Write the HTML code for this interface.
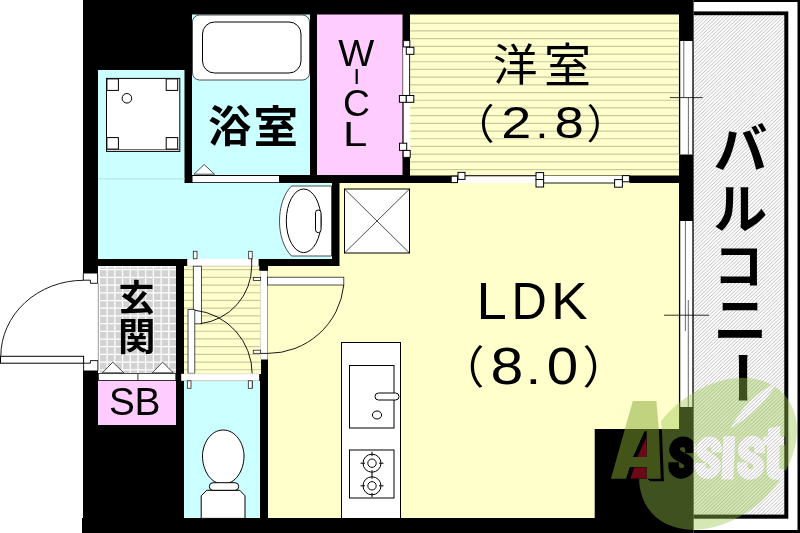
<!DOCTYPE html>
<html lang="ja"><head><meta charset="utf-8"><title>間取り図 1LDK</title>
<style>html,body{margin:0;padding:0;background:#fff;}body{width:800px;height:533px;overflow:hidden;font-family:"Liberation Sans",sans-serif;}svg{display:block;will-change:transform;}text{font-family:"Liberation Sans",sans-serif;fill:#000;}text.cjk{font-family:"Liberation Sans","Noto Sans CJK JP",sans-serif;}</style>
</head><body>
<svg width="800" height="533" viewBox="0 0 800 533">
<defs>
</defs>
<rect width="800" height="533" fill="#fff"/>
<path d="M83 0H693.5V533H82V518H83Z" fill="#000"/>
<rect x="82" y="274" width="16" height="96.5" fill="#fff"/>
<rect x="98" y="70" width="86.5" height="189" fill="#ccffff"/>
<rect x="184" y="183" width="148" height="76" fill="#ccffff"/>
<path d="M98 178.8H184.6" stroke="#b4dcdc" stroke-width="0.9"/>
<rect x="192" y="14.5" width="118" height="160.5" fill="#ccffff"/>
<rect x="317" y="14.5" width="85.5" height="160.5" fill="#ffccff"/>
<rect x="410" y="14.5" width="269" height="161" fill="#ffffcc"/>
<path d="M410 23.26H679M410 30.96H679M410 38.66H679M410 46.36H679M410 54.06H679M410 61.76H679M410 69.46H679M410 77.16H679M410 84.86H679M410 92.56H679M410 100.26H679M410 107.96H679M410 115.66H679M410 123.36H679M410 131.06H679M410 138.76H679M410 146.46H679M410 154.16H679M410 161.86H679M410 169.56H679" stroke="#c9c9a2" stroke-width="1.2" fill="none"/>
<path d="M339.5 183H679V429H594.7V518H268V266H339.5Z" fill="#ffffcc"/>
<rect x="184" y="266" width="77" height="108" fill="#ffffcc"/>
<path d="M184 269.66H261M184 277.36H261M184 285.06H261M184 292.76H261M184 300.46H261M184 308.16H261M184 315.86H261M184 323.56H261M184 331.26H261M184 338.96H261M184 346.66H261M184 354.36H261M184 362.06H261M184 369.76H261" stroke="#c9c9a2" stroke-width="1.2" fill="none"/>
<rect x="184" y="381" width="76" height="137" fill="#ccffff"/>
<rect x="98" y="266" width="78" height="108" fill="#d2d2d2"/>
<path d="M99.40 266V374M107.11 266V374M114.82 266V374M122.53 266V374M130.24 266V374M137.95 266V374M145.66 266V374M153.37 266V374M161.08 266V374M168.79 266V374M98 269.70H176M98 277.40H176M98 285.10H176M98 292.80H176M98 300.50H176M98 308.20H176M98 315.90H176M98 323.60H176M98 331.30H176M98 339.00H176M98 346.70H176M98 354.40H176M98 362.10H176M98 369.80H176M98.6 266V374M98 266.9H176" stroke="#fff" stroke-width="1.25" fill="none"/>
<rect x="98" y="381" width="78" height="44" fill="#ffccff"/>
<rect x="192.5" y="15" width="117" height="65" rx="7" fill="#fff" stroke="#222" stroke-width="0.8"/>
<rect x="202.5" y="22" width="98.5" height="51" rx="12" fill="#fff" stroke="#000" stroke-width="1"/>
<rect x="106.5" y="78.4" width="73.3" height="73" fill="#fff" stroke="#000" stroke-width="1"/>
<path d="M106.5 149.6H179.8" stroke="#333" stroke-width="0.8"/>
<rect x="106.9" y="78.9" width="11.5" height="11.5" fill="#fff" stroke="#000" stroke-width="1"/>
<rect x="166.2" y="78.9" width="11.5" height="11.5" fill="#fff" stroke="#000" stroke-width="1"/>
<rect x="106.9" y="137.6" width="11.5" height="11.5" fill="#fff" stroke="#000" stroke-width="1"/>
<rect x="166.2" y="137.6" width="11.5" height="11.5" fill="#fff" stroke="#000" stroke-width="1"/>
<circle cx="126.9" cy="98.3" r="4.8" fill="#fff" stroke="#000" stroke-width="1"/>
<rect x="192.5" y="176" width="86.5" height="6.2" fill="#fff"/>
<path d="M194 174.2L204.2 164.5L214.5 174.2Z" fill="#fff" stroke="#222" stroke-width="0.8"/>
<path d="M291.5 186H331.5V256H291.5C275.5 240 275.5 202 291.5 186Z" fill="#fff" stroke="#222" stroke-width="0.8"/>
<ellipse cx="303.7" cy="220.8" rx="17.4" ry="31.8" fill="#fff" stroke="#000" stroke-width="1"/>
<rect x="315.5" y="210" width="5.5" height="22.6" rx="2.7" fill="#fff" stroke="#000" stroke-width="1"/>
<rect x="344.5" y="189" width="65" height="64" fill="#fff" stroke="#000" stroke-width="1"/>
<path d="M344.5 189L409.5 253M409.5 189L344.5 253" stroke="#000" stroke-width="0.7"/>
<rect x="341.5" y="342.5" width="59" height="176" fill="#fff" stroke="#000" stroke-width="1"/>
<rect x="349.5" y="365.5" width="44.5" height="62.5" fill="#fff" stroke="#000" stroke-width="1"/>
<rect x="375" y="393" width="24" height="7" rx="3.5" fill="#fff" stroke="#000" stroke-width="1"/>
<ellipse cx="377" cy="415" rx="4.6" ry="4" fill="#fff" stroke="#000" stroke-width="1"/>
<rect x="349.5" y="450" width="44.5" height="48" fill="#fff" stroke="#000" stroke-width="1"/>
<circle cx="372" cy="463.2" r="9" fill="#fff" stroke="#000" stroke-width="1"/>
<circle cx="372" cy="463.2" r="4.2" fill="#fff" stroke="#000" stroke-width="1"/>
<path d="M372 451.7V456.2M372 470.2V474.7M360.5 463.2H365M379 463.2H383.5" stroke="#000" stroke-width="1"/>
<circle cx="372" cy="485.8" r="9" fill="#fff" stroke="#000" stroke-width="1"/>
<circle cx="372" cy="485.8" r="4.2" fill="#fff" stroke="#000" stroke-width="1"/>
<path d="M372 474.3V478.8M372 492.8V497.3M360.5 485.8H365M379 485.8H383.5" stroke="#000" stroke-width="1"/>
<path d="M201.2 518.4V495.8L206.8 490.3H239.8L245 495.8V518.4Z" fill="#fff" stroke="#000" stroke-width="1"/>
<path d="M223.2 430C236 430 244 444 244 456C244 470 236 484 223.2 484C210.5 484 202.5 470 202.5 456C202.5 444 210.5 430 223.2 430Z" fill="#fff" stroke="#000" stroke-width="1"/>
<rect x="209.3" y="482.7" width="29.4" height="7.6" rx="3.8" fill="#fff" stroke="#000" stroke-width="1"/>
<rect x="187.2" y="258.8" width="71.4" height="7.4" fill="#fff"/>
<path d="M187.2 266.2H258.6" stroke="#c4c4b4" stroke-width="0.8"/>
<rect x="193.3" y="251.3" width="3.7" height="7.5" fill="#fff" stroke="#222" stroke-width="0.8"/>
<rect x="248.7" y="251.3" width="3.5" height="7.5" fill="#fff" stroke="#222" stroke-width="0.8"/>
<rect x="259.3" y="265.5" width="8.4" height="5.3" fill="#000"/>
<rect x="260.6" y="270.8" width="7" height="88.7" fill="#fff"/>
<path d="M260.6 270.8V359.5" stroke="#d0d0c0" stroke-width="0.8"/>
<rect x="193.3" y="266.2" width="8.1" height="57.6" fill="#fff" stroke="#222" stroke-width="0.8"/>
<path d="M200.6 323.6A58 58 0 0 0 251.7 266.2V258.8" fill="none" stroke="#000" stroke-width="0.9"/>
<path d="M194.6 310.2A64.2 64.2 0 0 1 252.2 373.8V388.3" fill="none" stroke="#000" stroke-width="0.9"/>
<rect x="188" y="309.6" width="6.8" height="63.7" fill="#fff" stroke="#222" stroke-width="0.8"/>
<rect x="181.2" y="373.8" width="78" height="7" fill="#fff"/>
<path d="M184.2 373.8H259.2M184.2 380.8H259.2" stroke="#d6d6d6" stroke-width="0.7"/>
<rect x="187.3" y="380.8" width="3.7" height="7.5" fill="#fff" stroke="#222" stroke-width="0.8"/>
<rect x="248.3" y="380.8" width="3.9" height="7.5" fill="#fff" stroke="#222" stroke-width="0.8"/>
<rect x="267.5" y="277.2" width="76.3" height="7.8" fill="#fff" stroke="#222" stroke-width="0.8"/>
<path d="M343.8 285A76.3 76 0 0 1 267.5 353.4H260.6" fill="none" stroke="#000" stroke-width="0.9"/>
<rect x="253.3" y="277.4" width="7.3" height="3" fill="#fff" stroke="#222" stroke-width="0.8"/>
<rect x="253.3" y="350.2" width="7.3" height="3.1" fill="#fff" stroke="#222" stroke-width="0.8"/>
<rect x="98.4" y="373.4" width="77.4" height="7" fill="#fff" stroke="#222" stroke-width="0.8"/>
<path d="M137.9 373.4V380.4" stroke="#222" stroke-width="0.9"/>
<path d="M102.4 372.8L112.8 362.2L123.8 372.8Z" fill="#fff" stroke="#222" stroke-width="0.8"/>
<path d="M152.3 372.8L162.6 362.2L173.3 372.8Z" fill="#fff" stroke="#222" stroke-width="0.8"/>
<path d="M83.3 273.5V280.2H90.4V283.3H97.6V273.5" fill="#fff" stroke="#000" stroke-width="0.9"/>
<path d="M83.5 280.3A82.7 76 0 0 0 0.8 356.3" fill="none" stroke="#000" stroke-width="0.9"/>
<path d="M98.3 283.3V360.6" stroke="#555" stroke-width="0.6"/>
<rect x="0.5" y="356.3" width="83.1" height="6.9" fill="#fff" stroke="#000" stroke-width="1"/>
<path d="M83.6 363.2V370.8M83.6 363.2H90.4V360.6H97.9V370.8" fill="none" stroke="#000" stroke-width="0.9"/>
<rect x="403" y="40.2" width="7.2" height="117.3" fill="#fff"/>
<path d="M409.6 54V95.5M403.2 102V143.5" stroke="#000" stroke-width="0.9"/>
<path d="M403.1 54V95.5" stroke="#aaa" stroke-width="0.6"/>
<rect x="403.3" y="40.6" width="6.5" height="6.3" fill="#fff" stroke="#000" stroke-width="1"/>
<rect x="406.3" y="47.3" width="7.6" height="7" fill="#fff" stroke="#000" stroke-width="1"/>
<rect x="399.4" y="95.5" width="6.9" height="6.8" fill="#fff" stroke="#000" stroke-width="1"/>
<rect x="406.3" y="95.5" width="7.5" height="6.8" fill="#fff" stroke="#000" stroke-width="1"/>
<rect x="399.5" y="143.2" width="7.2" height="7.2" fill="#fff" stroke="#000" stroke-width="1"/>
<rect x="403.2" y="150.4" width="7" height="7" fill="#fff" stroke="#000" stroke-width="1"/>
<rect x="451" y="176" width="178.6" height="7" fill="#fff"/>
<path d="M465 175.8H536M544 183H615" stroke="#000" stroke-width="0.9"/>
<rect x="451.2" y="176.2" width="6.3" height="6.4" fill="#fff" stroke="#000" stroke-width="1"/>
<rect x="458" y="172.4" width="7" height="7" fill="#fff" stroke="#000" stroke-width="1"/>
<rect x="536" y="172.6" width="7.6" height="6.9" fill="#fff" stroke="#000" stroke-width="1"/>
<rect x="536" y="179.5" width="7.6" height="7.5" fill="#fff" stroke="#000" stroke-width="1"/>
<rect x="622.4" y="175.6" width="7" height="6.2" fill="#fff" stroke="#000" stroke-width="1"/>
<rect x="614.6" y="179.6" width="7.8" height="7.6" fill="#fff" stroke="#000" stroke-width="1"/>
<rect x="679" y="41" width="14.5" height="113.5" fill="#fff"/>
<path d="M679.6 41V154.5M693 41V154.5" stroke="#000" stroke-width="1.3"/>
<path d="M683.8 41V97.5M688.4 97.5V154.5" stroke="#5a5a5a" stroke-width="0.9"/>
<path d="M670 97.6H702.6" stroke="#000" stroke-width="0.8"/>
<rect x="679" y="221" width="14.5" height="186" fill="#fff"/>
<path d="M679.6 221V407M693 221V407" stroke="#000" stroke-width="1.3"/>
<path d="M685.4 221V331M688.3 300V407" stroke="#5a5a5a" stroke-width="0.9"/>
<path d="M664 315.2H709" stroke="#000" stroke-width="0.8"/>
<rect x="693.5" y="0" width="106.5" height="533" fill="#000"/>
<rect x="693.8" y="2" width="103.7" height="528" fill="#fff"/>
<rect x="693.5" y="11.4" width="94.8" height="507.3" fill="#000"/>
<linearGradient id="hg" gradientUnits="userSpaceOnUse" x1="700" y1="22.6" x2="701.773" y2="24.448" spreadMethod="repeat"><stop offset="0" stop-color="#c4c4c4"/><stop offset="0.3" stop-color="#fdfdfd"/><stop offset="0.5" stop-color="#fff"/><stop offset="0.7" stop-color="#fdfdfd"/><stop offset="1" stop-color="#c4c4c4"/></linearGradient>
<rect x="693.8" y="15.2" width="90.5" height="499.4" fill="url(#hg)"/>
<path d="M693 97.6H702.6M693 315.2H709" stroke="#000" stroke-width="0.8"/>
<g aria-label="洋室">
<text class="cjk" x="493" y="80.5" font-size="44.5" fill="#000">洋</text>
<text class="cjk" x="544" y="82" font-size="47" fill="#000">室</text>
</g>
<text class="cjk" x="453.15" y="138.87" font-size="41.3" fill="#000">（</text>
<text class="cjk" x="586.58" y="138.87" font-size="40.5" fill="#000">）</text>
<text transform="matrix(0.5400 0 0 0.4511 501.28 138.00)" font-size="100"  fill="#000" stroke="#000" stroke-width="0" >2</text>
<text transform="matrix(0.4621 0 0 0.4115 535.38 138.00)" font-size="100"  fill="#000" stroke="#000" stroke-width="0" >.</text>
<text transform="matrix(0.5264 0 0 0.4506 554.51 137.96)" font-size="100"  fill="#000" stroke="#000" stroke-width="0" >8</text>
<text transform="matrix(0.5443 0 0 0.5233 476.53 319.00)" font-size="100"  fill="#000" stroke="#000" stroke-width="0" >L</text>
<text transform="matrix(0.4896 0 0 0.5233 511.48 319.00)" font-size="100"  fill="#000" stroke="#000" stroke-width="0" >D</text>
<text transform="matrix(0.5490 0 0 0.5233 551.00 319.00)" font-size="100"  fill="#000" stroke="#000" stroke-width="0" >K</text>
<text class="cjk" x="439.43" y="384.11" font-size="45" fill="#000">（</text>
<text class="cjk" x="582.57" y="384.11" font-size="45" fill="#000">）</text>
<text transform="matrix(0.5903 0 0 0.5141 490.43 383.90)" font-size="100"  fill="#000" stroke="#000" stroke-width="0" >8</text>
<text transform="matrix(0.5671 0 0 0.4489 525.42 384.00)" font-size="100"  fill="#000" stroke="#000" stroke-width="0" >.</text>
<text transform="matrix(0.5648 0 0 0.5141 546.79 383.90)" font-size="100"  fill="#000" stroke="#000" stroke-width="0" >0</text>
<text transform="matrix(0.3814 0 0 0.3677 338.13 65.60)" font-size="100"  fill="#000" stroke="#000" stroke-width="0" >W</text>
<rect x="355.6" y="69" width="2.2" height="15" fill="#000"/>
<text transform="matrix(0.3727 0 0 0.3715 342.91 116.14)" font-size="100"  fill="#000" stroke="#000" stroke-width="0" >C</text>
<text transform="matrix(0.4377 0 0 0.3561 343.11 145.80)" font-size="100"  fill="#000" stroke="#000" stroke-width="0" >L</text>
<text transform="matrix(0.3874 0 0 0.3927 108.94 415.02)" font-size="100"  fill="#000" stroke="#000" stroke-width="0" >S</text>
<text transform="matrix(0.3889 0 0 0.3924 134.61 415.00)" font-size="100"  fill="#000" stroke="#000" stroke-width="0" >B</text>
<g aria-label="浴室">
<text class="cjk" x="208.3" y="142.1" font-size="43" font-weight="bold" fill="#000">浴</text>
<text class="cjk" x="253.5" y="143.2" font-size="44.5" font-weight="bold" fill="#000">室</text>
</g>
<g aria-label="玄関">
<text class="cjk" x="118.5" y="310.6" font-size="36" font-weight="bold" fill="#000">玄</text>
<text class="cjk" x="118" y="350.2" font-size="37.5" font-weight="bold" fill="#000">関</text>
</g>
<g aria-label="バルコニー">
<text class="cjk" x="713.5" y="169.2" font-size="54" font-weight="bold" fill="#000">バ</text>
<text class="cjk" x="713.3" y="229" font-size="54" font-weight="bold" fill="#000">ル</text>
<text class="cjk" x="713.6" y="283.5" font-size="50" font-weight="bold" fill="#000">コ</text>
<text class="cjk" x="713.4" y="339.5" font-size="54" font-weight="bold" fill="#000">ニ</text>
<text class="cjk" transform="translate(742.2 377.75) rotate(90)" x="0" y="20.5" text-anchor="middle" font-size="56" font-weight="bold" fill="#000">ー</text>
</g>
<defs><mask id="leafm" maskUnits="userSpaceOnUse" x="600" y="360" width="200" height="173">
<g transform="rotate(-41.5 718 453.8)"><ellipse cx="718" cy="453.8" rx="88.8" ry="64.1" fill="#fff"/></g>
<path d="M777 382.5C757 392 740 409 731.5 427.5C748 418 767 401 777 382.5Z" fill="#000" stroke="#000" stroke-width="0.6"/>
<path d="M610.9 478.8L632.8 400.9H656.4L658.9 430L660.8 478.8H646.5V467.2H629.9L626.2 478.8ZM646.5 431.5V457.1H633.15L644.6 431.5Z" fill="#000" fill-rule="evenodd"/>
<path d="M610.9 478.8L632.8 400.9H656.4L658.9 430L660.8 478.8H646.5V467.2H629.9L626.2 478.8ZM646.5 431.5V457.1H633.15L644.6 431.5Z" fill="#000" fill-rule="evenodd" transform="translate(3.1 2.5)"/>
<path d="M610.9 478.8L632.8 400.9H656.4L658.9 430L660.8 478.8H646.5V467.2H629.9L626.2 478.8ZM646.5 431.5V457.1H633.15L644.6 431.5Z" fill="#000" fill-rule="evenodd" transform="translate(1.55 1.25)"/>
<path d="M689.0 452.9V448.9A8.1 8.1 0 0 0 672.9 448.9C672.9 458.6 689.0 456.6 689.0 466.3A8.1 8.1 0 0 1 672.9 466.3V462.3" fill="none" stroke="#000" stroke-width="10.5" transform="translate(680.9 479.6) skewX(-3) translate(-680.9 -479.6)"/>
<path d="M715.0 452.6V448.6A7.6 7.6 0 0 0 699.9 448.6C699.9 458.8 715.0 456.8 715.0 467.0A7.6 7.6 0 0 1 699.9 467.0V463.0" fill="none" stroke="#000" stroke-width="10.5" transform="translate(707.4 479.8) skewX(-3) translate(-707.4 -479.8)"/>
<path d="M723.4 436.2H735.3L733.3 479.4H721.4Z" fill="#000"/>
<path d="M758.1 453.3V449.3A8.2 8.2 0 0 0 741.6 449.3C741.6 458.8 758.1 456.8 758.1 466.3A8.2 8.2 0 0 1 741.6 466.3V462.3" fill="none" stroke="#000" stroke-width="10.5" transform="translate(749.9 479.8) skewX(-3) translate(-749.9 -479.8)"/>
<path d="M768.2 428.5L780.4 425.4L780 436.4H785.2V445H779.8L779.2 466.5Q779.2 470 785 469.4V478.6Q778 480.6 772.5 479.2Q766.4 477.4 766.6 469L767.2 445H763.2V436.4H767.6Z" fill="#000"/>
</mask><clipPath id="below"><rect x="594.7" y="429.2" width="100" height="60"/></clipPath></defs>
<rect x="600" y="360" width="200" height="173" fill="rgb(150,196,72)" fill-opacity="0.41" mask="url(#leafm)"/>
<path d="M610.9 478.8L632.8 400.9H656.4L658.9 430L660.8 478.8H646.5V467.2H629.9L626.2 478.8ZM646.5 431.5V457.1H633.15L644.6 431.5Z" fill="rgb(134,168,50)" fill-opacity="0.5" fill-rule="evenodd"/>
<clipPath id="cnt"><path d="M646.5 431.5V457.1H633.15L644.6 431.5ZM646.5 467.2H629.9L626.2 478.8H646.5Z"/></clipPath>
<g clip-path="url(#below)"><g clip-path="url(#cnt)">
<rect x="620" y="410" width="40" height="75" fill="#000"/>
<path d="M646.5 431.5V457.1H633.15L644.6 431.5ZM646.5 467.2H629.9L626.2 478.8H646.5Z" fill="#6b0a16" transform="translate(4.3 0)"/>
</g></g>
</svg></body></html>
